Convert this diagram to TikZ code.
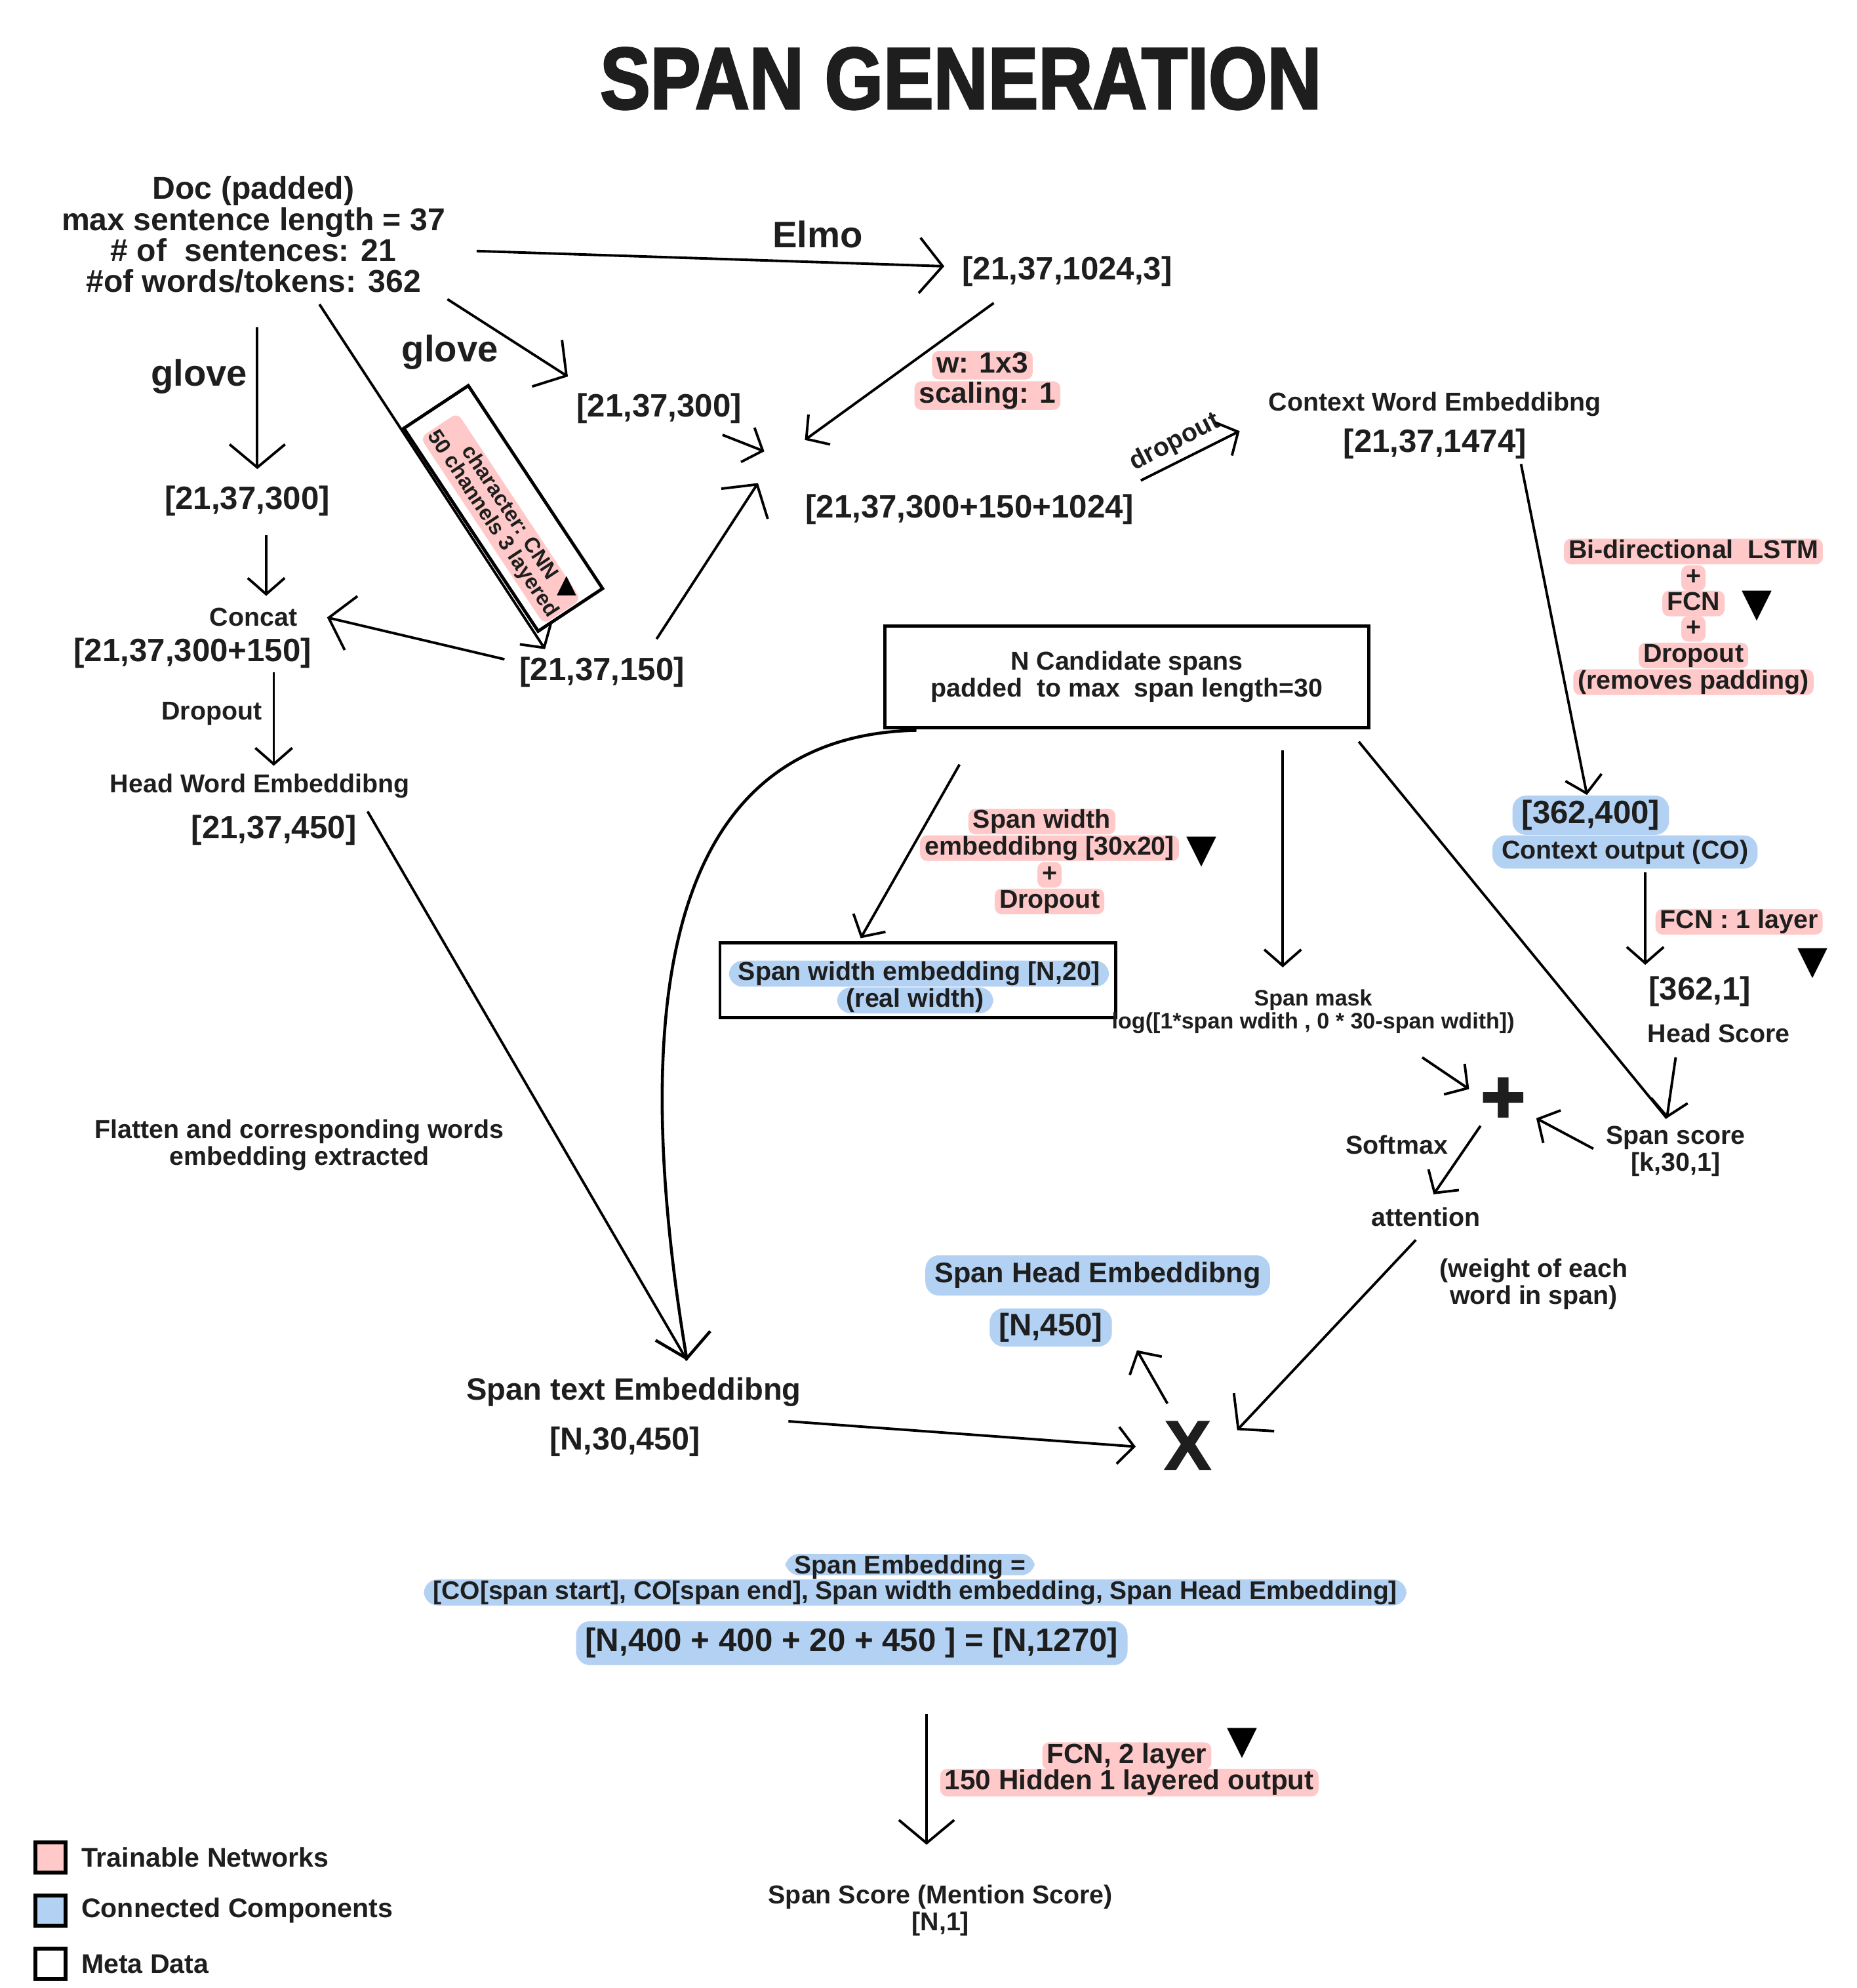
\documentclass[tikz,border=0pt]{standalone}
\usepackage{fontspec}
\setmainfont{Liberation Sans}
\newfontfamily\titlefont[FakeStretch=0.86,FakeBold=2.2]{Liberation Sans}
\newfontfamily\heavyfont[FakeBold=2]{Liberation Sans}
\newfontfamily\symfont{DejaVu Sans}
\usetikzlibrary{arrows.meta, positioning, calc}

\definecolor{ink}{HTML}{1E1E1E}
\definecolor{hlpink}{HTML}{FFC9C9}
\definecolor{hlblue}{HTML}{B3D1F2}

\newcommand{\fsz}[2]{\fontsize{#1}{#2}\selectfont}

\tikzset{
  txt/.style={text=ink, inner sep=1pt, align=center, font=\bfseries\fsz{14}{14}},
  note/.style={txt, font=\bfseries\fsz{11.2}{11.6}},
  pinknote/.style={note, fill=hlpink, rounded corners=3pt, inner xsep=2pt, inner ysep=0.3pt, text height=8.2pt, text depth=2.3pt},
  bluenote/.style={txt, fill=hlblue, rounded corners=6pt, inner xsep=4pt, inner ysep=2pt},
  marker/.style={text=black, inner sep=0pt, font=\symfont\fsz{17}{17}},
  arr/.style={line width=1.1pt, -{Straight Barb[length=10pt,width=24pt]}},
  arrs/.style={line width=1.1pt, -{Straight Barb[length=7pt,width=16pt]}},
  metabox/.style={draw, line width=1.4pt},
  legbox/.style={draw, line width=1.7pt, minimum size=13pt, inner sep=0pt}
}

\begin{document}
\begin{tikzpicture}[x=0.1932mm, y=-0.1932mm]
\useasboundingbox (0,0) rectangle (1465,1568);

% Titel
\node[txt, font=\titlefont\bfseries\fsz{38}{38}] (title) at (758,62) {SPAN GENERATION};

% Eingabe
\node[txt, font=\bfseries\fsz{13.7}{13.4}] (doc) at (200,185) {Doc (padded)\\max sentence length = 37\\\# of~ sentences: 21\\\#of words/tokens: 362};
\node[txt, font=\bfseries\fsz{16}{16}] (elmo) at (645,185) {Elmo};
\node[txt, font=\bfseries\fsz{16}{16}] (glovea) at (157,297) {glove};
\node[txt, font=\bfseries\fsz{16}{16}] (gloveb) at (355,278) {glove};

% Einbettungen
\node[txt] (e1024) at (842,214) {[21,37,1024,3]};
\node[txt] (g300b) at (520,322) {[21,37,300]};
\node[txt] (g300a) at (195,395) {[21,37,300]};
\node[txt] (mix) at (765,402) {[21,37,300+150+1024]};
\node[txt] (char150) at (475,530) {[21,37,150]};
\node[note] (concat) at (200,487) {Concat};
\node[txt] (cat450) at (152,515) {[21,37,300+150]};
\node[note] (drop) at (167,563) {Dropout};
\node[note] (headword) at (205,620) {Head Word Embeddibng};
\node[txt] (hw450) at (216,655) {[21,37,450]};

% CNN Kasten
\node[metabox, rotate=-56.5, minimum width=105.5pt, minimum height=33.5pt] (cnn) at (397,401) {};
\node[note, fill=hlpink, rounded corners=3pt, inner sep=1pt, font=\bfseries\fsz{9.2}{8.8}, rotate=-56.5] (cnntext) at (395,409) {character: CNN\\50 channels 3 layered};
\node[marker, font=\symfont\fsz{11}{11}] (tricnn) at (447,462) {▲};

% Elmo Gewichte
\node[pinknote, font=\bfseries\fsz{12.6}{12.6}, text height=9.2pt, text depth=2.6pt] (wa) at (775,288) {w: 1x3};
\node[pinknote, font=\bfseries\fsz{12.6}{12.6}, text height=9.2pt, text depth=2.6pt] (wb) at (779,312) {scaling: 1};
\node[note, rotate=27] (dropr) at (927,349) {dropout};

% Kontext
\node[note] (ctx) at (1132,319) {Context Word Embeddibng};
\node[txt] (c1474) at (1132,350) {[21,37,1474]};
\node[pinknote] (lstma) at (1336,435) {Bi-directional~ LSTM};
\node[pinknote] (lstmb) at (1336,456) {+};
\node[pinknote] (lstmc) at (1336,476) {FCN};
\node[pinknote] (lstmd) at (1336,496) {+};
\node[pinknote] (lstme) at (1336,517) {Dropout};
\node[pinknote] (lstmf) at (1336,538) {(removes padding)};
\node[marker] (tria) at (1386,478) {▼};
\node[bluenote] (co) at (1255,643) {[362,400]};
\node[bluenote, font=\bfseries\fsz{11.2}{11.6}] (coname) at (1282,672) {Context output (CO)};
\node[pinknote] (fcna) at (1372,727) {FCN : 1 layer};
\node[marker] (trib) at (1430,760) {▼};
\node[txt] (h1) at (1341,782) {[362,1]};
\node[note] (hscore) at (1356,815) {Head Score};

% Kandidaten
\node[metabox, text=ink, font=\bfseries\fsz{11.2}{11.6}, align=center, minimum width=210pt, minimum height=44pt] (cand) at (889,534) {N Candidate spans\\padded~ to max~ span length=30};
\node[pinknote] (swpa) at (822,648) {Span width};
\node[pinknote] (swpb) at (828,669) {embeddibng [30x20]};
\node[pinknote] (swpc) at (828,690) {+};
\node[pinknote] (swpd) at (828,711) {Dropout};
\node[marker] (tric) at (948,672) {▼};
\node[bluenote, font=\bfseries\fsz{11.2}{11.6}, inner ysep=0.4pt, text height=8.2pt, text depth=2.3pt] (swa) at (725,768) {Span width embedding [N,20]};
\node[bluenote, font=\bfseries\fsz{11.2}{11.6}, inner ysep=0.4pt, text height=8.2pt, text depth=2.3pt] (swb) at (722,789) {(real width)};
\node[metabox, minimum width=171.5pt, minimum height=32.4pt] (swbox) at (724,773) {};
\node[txt, font=\bfseries\fsz{9.7}{9}] (mask) at (1036,798) {Span mask\\log([1*span wdith , 0 * 30-span wdith])};

% Aufmerksamkeit
\node[txt, font=\symfont\fsz{24}{24}] (plus) at (1186,866) {✚};
\node[note] (sscore) at (1322,908) {Span score\\{}[k,30,1]};
\node[note] (softmax) at (1102,903) {Softmax};
\node[note] (att) at (1125,960) {attention};
\node[note] (weight) at (1210,1013) {(weight of each\\word in span)};
\node[note] (flat) at (236,903) {Flatten and corresponding words\\embedding extracted};
\node[bluenote, font=\bfseries\fsz{12.3}{12.3}, inner ysep=3pt] (shead) at (866,1006) {Span Head Embeddibng};
\node[bluenote, font=\bfseries\fsz{13.5}{13.5}] (sh450) at (829,1047) {[N,450]};
\node[txt, font=\bfseries\fsz{13.4}{13.4}] (stext) at (500,1098) {Span text Embeddibng};
\node[txt, font=\bfseries\fsz{13.8}{13.8}] (st450) at (493,1137) {[N,30,450]};
\node[txt, font=\heavyfont\bfseries\fsz{30}{30}] (times) at (937,1140) {X};

% Span Embedding
\node[bluenote, font=\bfseries\fsz{11.1}{11.1}, inner ysep=0.4pt, text height=8.2pt, text depth=2.3pt] (seb) at (722,1256) {[CO[span start], CO[span end], Span width embedding, Span Head Embedding]};
\node[bluenote, font=\bfseries\fsz{11.1}{11.1}, inner ysep=0.4pt, text height=8.2pt, text depth=0.3pt] (sea) at (718,1234) {Span Embedding =};
\node[bluenote, font=\bfseries\fsz{14}{14}, inner ysep=3pt] (sec) at (672,1296) {[N,400 + 400 + 20 + 450 ] = [N,1270]};
\node[pinknote, font=\bfseries\fsz{12}{12}, text height=8.8pt, text depth=2.5pt] (fcnba) at (889,1385) {FCN, 2 layer};
\node[pinknote, font=\bfseries\fsz{12}{12}, text height=8.8pt, text depth=2.5pt] (fcnbb) at (891,1406) {150 Hidden 1 layered output};
\node[marker] (trid) at (980,1375) {▼};
\node[note] (final) at (742,1507) {Span Score (Mention Score)\\{}[N,1]};

% Legende
\node[legbox, fill=hlpink] (legpink) at (40,1465) {};
\node[legbox, fill=hlblue] (legblue) at (40,1507) {};
\node[legbox, fill=white] (legmeta) at (40,1549) {};
\node[txt, font=\bfseries\fsz{11.7}{11.7}, anchor=west] (legpinkt) at (62,1465) {Trainable Networks};
\node[txt, font=\bfseries\fsz{11.7}{11.7}, anchor=west] (legbluet) at (62,1507) {Connected Components};
\node[txt, font=\bfseries\fsz{11.7}{11.7}, anchor=west] (legmetat) at (62,1549) {Meta Data};

% Koordinaten für Pfeilenden
\coordinate (docE) at (376,198);
\coordinate (elmoIn) at (745,210);
\coordinate (docSE) at (353,236);
\coordinate (glovebIn) at (448,297);
\coordinate (docS) at (252,240);
\coordinate (cnnIn) at (430,512);
\coordinate (docB) at (203,258);
\coordinate (gloveaIn) at (203,370);
\coordinate (g300aS) at (210,422);
\coordinate (concatIn) at (210,470);
\coordinate (char150W) at (398,520);
\coordinate (concatE) at (258,487);
\coordinate (cat450S) at (216,530);
\coordinate (headIn) at (216,604);
\coordinate (g300bE) at (570,343);
\coordinate (mixA) at (603,356);
\coordinate (e1024S) at (784,239);
\coordinate (mixB) at (635,347);
\coordinate (char150N) at (518,504);
\coordinate (mixC) at (598,381);
\coordinate (mixE) at (900,379);
\coordinate (ctxIn) at (978,340);
\coordinate (c1474S) at (1200,366);
\coordinate (coIn) at (1252,627);
\coordinate (coS) at (1298,688);
\coordinate (h1In) at (1298,761);
\coordinate (hscoreS) at (1322,834);
\coordinate (sscoreIn) at (1315,882);
\coordinate (candSE) at (1072,585);
\coordinate (candS) at (1012,592);
\coordinate (maskIn) at (1012,763);
\coordinate (candSW) at (757,603);
\coordinate (swIn) at (679,740);
\coordinate (candBL) at (723,576);
\coordinate (stextIn) at (542,1073);
\coordinate (hw450S) at (290,640);
\coordinate (stextE) at (622,1121);
\coordinate (timesW) at (896,1141);
\coordinate (attS) at (1117,978);
\coordinate (timesE) at (976,1128);
\coordinate (timesN) at (921,1107);
\coordinate (sheadIn) at (897,1065);
\coordinate (maskS) at (1122,834);
\coordinate (plusW) at (1159,859);
\coordinate (sscoreW) at (1257,906);
\coordinate (plusE) at (1212,882);
\coordinate (plusS) at (1168,888);
\coordinate (attIn) at (1131,942);
\coordinate (secS) at (731,1352);
\coordinate (finalIn) at (731,1455);

% Verbindungen
\draw[arr] (docE) -- (elmoIn);
\draw[arr] (docSE) -- (glovebIn);
\draw[arrs] (docS) -- (cnnIn);
\draw[arr] (docB) -- (gloveaIn);
\draw[arrs] (g300aS) -- (concatIn);
\draw[arr] (char150W) -- (concatE);
\draw[arrs] (cat450S) -- (headIn);
\draw[arrs] (g300bE) -- (mixA);
\draw[arrs] (e1024S) -- (mixB);
\draw[arr] (char150N) -- (mixC);
\draw[arrs] (mixE) -- (ctxIn);
\draw[arrs] (c1474S) -- (coIn);
\draw[arrs] (coS) -- (h1In);
\draw[arrs] (hscoreS) -- (sscoreIn);
\draw[line width=1.1pt] (candSE) -- (sscoreIn);
\draw[arrs] (candS) -- (maskIn);
\draw[arrs] (candSW) -- (swIn);
\draw[arr, line width=1.3pt] (candBL) .. controls (540,580) and (490,760) .. (stextIn);
\draw[line width=1.1pt] (hw450S) -- (stextIn);
\draw[arrs] (stextE) -- (timesW);
\draw[arr] (attS) -- (timesE);
\draw[arrs] (timesN) -- (sheadIn);
\draw[arrs] (maskS) -- (plusW);
\draw[arrs] (sscoreW) -- (plusE);
\draw[arrs] (plusS) -- (attIn);
\draw[arr] (secS) -- (finalIn);

\end{tikzpicture}
\end{document}
